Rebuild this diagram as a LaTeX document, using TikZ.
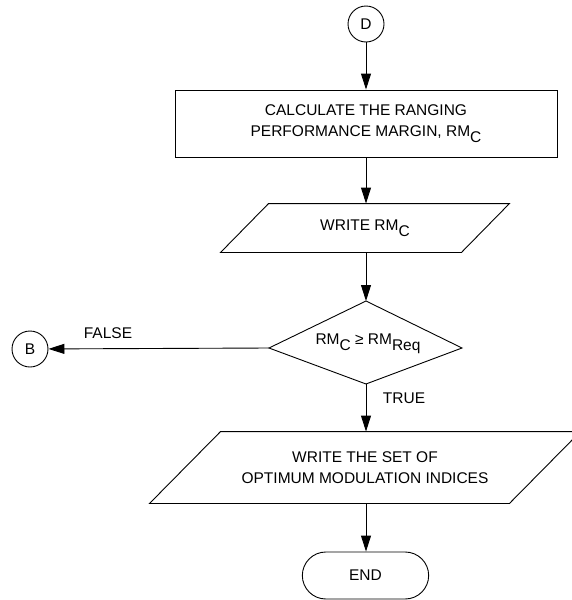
\documentclass[tikz,border=0pt]{standalone}
\usepackage{fontspec}
\setmainfont{Liberation Sans}
\usepackage{tikz}
\usetikzlibrary{arrows.meta, positioning, shapes.geometric, shapes.misc}

\newcommand{\lowtext}[1]{\raisebox{-0.36em}{#1}}

\tikzset{
    chart/.style={font=\fontsize{15.5}{21}\selectfont, line width=0.9pt},
    connector/.style={draw, circle, minimum size=36pt, inner sep=0pt},
    process/.style={draw, rectangle, minimum width=382pt, minimum height=67pt, align=center},
    io/.style={rectangle, inner sep=0pt, align=center},
    terminal/.style={draw, rounded rectangle, minimum width=133pt, minimum height=47pt},
    flow/.style={-{Triangle[length=16pt, width=10pt]}},
    tag/.style={inner sep=0pt}
}

\begin{document}
\begin{tikzpicture}[x=1pt, y=-1pt, chart]
    \useasboundingbox (0,0) rectangle (572,600);

    % Nodes
    \node[connector] (D) at (366,24) {D};
    \node[process] (calc) at (366,123.5) {CALCULATE THE RANGING\\PERFORMANCE MARGIN, RM\lowtext{C}};
    \node[io, minimum width=240pt, minimum height=48pt] (writerm) at (365,228) {WRITE RM\lowtext{C}};

    % Decision (kite shaped)
    \node[tag] (test) at (368,344) {RM\lowtext{C} ≥ RM\lowtext{Req}};
    \coordinate (testtop) at (366,301);
    \coordinate (testright) at (462,348);
    \coordinate (testbottom) at (366,384);
    \coordinate (testleft) at (269,348);
    \draw (testtop) -- (testright) -- (testbottom) -- (testleft) -- cycle;

    \node[connector] (B) at (30,349) {B};
    \node[io, minimum width=359pt, minimum height=71pt] (writeset) at (365,467.5) {WRITE THE SET OF\\OPTIMUM MODULATION INDICES};
    \node[terminal] (stop) at (365.5,575.5) {END};

    % Parallelogram outlines
    \foreach \n/\s in {writerm/24, writeset/35.5} {
        \draw ([xshift=-\s pt]\n.south west) -- ([xshift=\s pt]\n.north west)
            -- ([xshift=\s pt]\n.north east) -- ([xshift=-\s pt]\n.south east) -- cycle;
    }

    % Connectors
    \draw[flow] (D) -- (calc);
    \draw[flow] (calc) -- (calc.south |- writerm.north);
    \draw[flow] (calc.south |- writerm.south) -- (testtop);
    \draw[flow] (testleft) -- (B);
    \draw[flow] (testbottom) -- (testbottom |- writeset.north);
    \draw[flow] (testbottom |- writeset.south) -- (testbottom |- stop.north);

    % Labels
    \node[tag] (false) at (108,333) {FALSE};
    \node[tag] (true) at (404,398) {TRUE};
\end{tikzpicture}
\end{document}
